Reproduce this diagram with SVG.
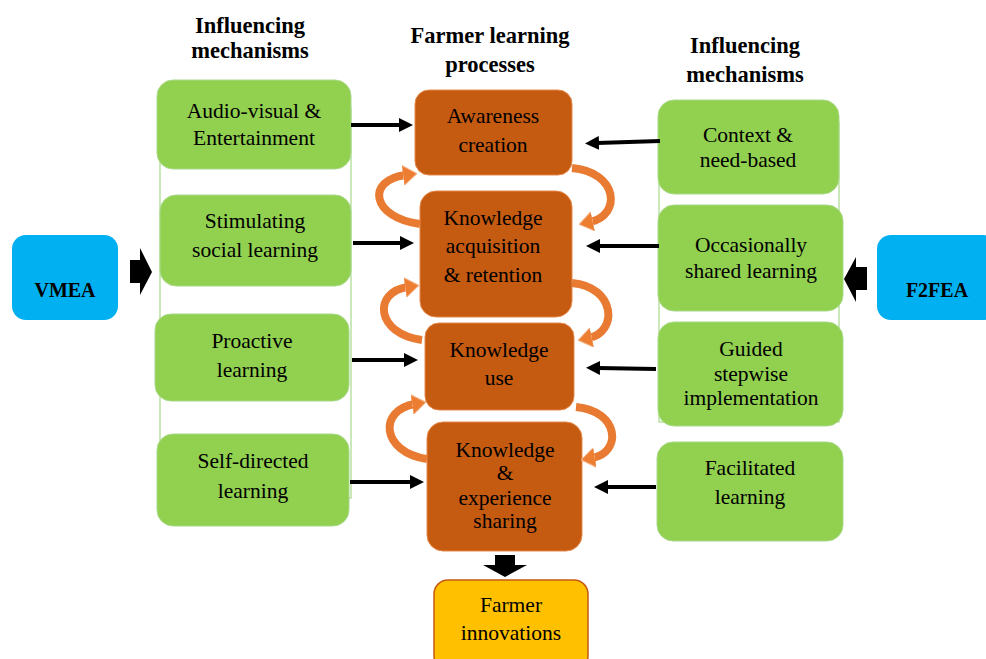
<svg xmlns="http://www.w3.org/2000/svg" width="986" height="659" viewBox="0 0 986 659">
<style>
text{font-family:"Liberation Serif","DejaVu Serif","Noto Serif",serif;fill:#000;text-anchor:middle}
.hd{font-size:22.5px;font-weight:bold}
.t{font-size:21.5px}
.lb{font-size:20px;font-weight:bold}
.g{fill:#92D050;stroke:#A9D98A;stroke-width:1}
.o{fill:#C55A11;stroke:#E7894A;stroke-width:1}
.b{fill:#00B0F0}
.y{fill:#FFC000;stroke:#C55A11;stroke-width:1.5}
.frame{fill:none;stroke:#A9D98A;stroke-width:1.2}
.ar{stroke:#000;stroke-width:4;fill:none}
.cv{stroke:#E97A32;stroke-width:8;fill:none}
</style>
<defs>
<marker id="ah" markerUnits="userSpaceOnUse" markerWidth="14" markerHeight="14" refX="2" refY="7" orient="auto">
<path d="M0,0 L14,7 L0,14 z" fill="#000"/>
</marker>
<marker id="oh" markerUnits="userSpaceOnUse" markerWidth="14" markerHeight="20" refX="3" refY="10" orient="auto">
<path d="M0,0 L14,10 L0,20 z" fill="#ED7D31" stroke="#F4B183" stroke-width="1"/>
</marker>
</defs>

<g id="headers">
<text class="hd" x="250" y="33">Influencing</text>
<text class="hd" x="250" y="58">mechanisms</text>
<text class="hd" x="490" y="43">Farmer learning</text>
<text class="hd" x="490" y="72">processes</text>
<text class="hd" x="745" y="53">Influencing</text>
<text class="hd" x="745" y="82">mechanisms</text>
</g>

<rect class="frame" x="160" y="108" width="191" height="390"/>
<rect class="frame" x="659" y="122" width="180" height="300"/>

<g id="vmea"><rect class="b" x="12" y="235" width="106" height="85" rx="14"/><text class="lb" x="65" y="297">VMEA</text></g>
<g id="f2fea"><rect class="b" x="877" y="235" width="120" height="85" rx="14"/><text class="lb" x="937" y="297">F2FEA</text></g>

<g id="av"><rect class="g" x="157" y="80" width="194" height="89" rx="16"/><text class="t" x="254" y="118">Audio-visual &amp;</text><text class="t" x="254" y="145">Entertainment</text></g>
<g id="ssl"><rect class="g" x="160" y="195" width="191" height="91" rx="16"/><text class="t" x="255" y="228">Stimulating</text><text class="t" x="255" y="257">social learning</text></g>
<g id="pl"><rect class="g" x="155" y="314" width="194" height="87" rx="16"/><text class="t" x="252" y="348">Proactive</text><text class="t" x="252" y="377">learning</text></g>
<g id="sdl"><rect class="g" x="157" y="434" width="192" height="92" rx="16"/><text class="t" x="253" y="468">Self-directed</text><text class="t" x="253" y="498">learning</text></g>

<g id="cnb"><rect class="g" x="658" y="100" width="181" height="94" rx="16"/><text class="t" x="748" y="142">Context &amp;</text><text class="t" x="748" y="167">need-based</text></g>
<g id="osl"><rect class="g" x="658" y="205" width="185" height="106" rx="16"/><text class="t" x="751" y="252">Occasionally</text><text class="t" x="751" y="278">shared learning</text></g>
<g id="gsi"><rect class="g" x="658" y="322" width="185" height="104" rx="16"/><text class="t" x="751" y="356">Guided</text><text class="t" x="751" y="381">stepwise</text><text class="t" x="751" y="405">implementation</text></g>
<g id="fl"><rect class="g" x="657" y="442" width="186" height="99" rx="16"/><text class="t" x="750" y="475">Facilitated</text><text class="t" x="750" y="504">learning</text></g>

<g id="ac"><rect class="o" x="415" y="90" width="157" height="85" rx="14"/><text class="t" x="493" y="123">Awareness</text><text class="t" x="493" y="152">creation</text></g>
<g id="kar"><rect class="o" x="420" y="191" width="152" height="126" rx="16"/><text class="t" x="493" y="225">Knowledge</text><text class="t" x="493" y="253">acquisition</text><text class="t" x="493" y="282">&amp; retention</text></g>
<g id="ku"><rect class="o" x="425" y="323" width="149" height="87" rx="14"/><text class="t" x="499" y="357">Knowledge</text><text class="t" x="499" y="385">use</text></g>
<g id="kes"><rect class="o" x="427" y="422" width="155" height="129" rx="16"/><text class="t" x="505" y="457">Knowledge</text><text class="t" x="505" y="480">&amp;</text><text class="t" x="505" y="505">experience</text><text class="t" x="505" y="528">sharing</text></g>
<g id="fi"><rect class="y" x="434" y="580" width="154" height="90" rx="14"/><text class="t" x="511" y="612">Farmer</text><text class="t" x="511" y="640">innovations</text></g>

<g id="connectors">
<path d="M130,260 H140 V248 L152,272 L140,295 V283 H130 z" fill="#000"/>
<path d="M867,267 H856 V257 L844,279 L856,302 V290 H867 z" fill="#000"/>
<path d="M495,555 H515 V565 H527 L505,577 L483,565 H495 z" fill="#000"/>

<line class="ar" x1="351" y1="125" x2="401" y2="125" marker-end="url(#ah)"/>
<line class="ar" x1="353" y1="243" x2="402" y2="243" marker-end="url(#ah)"/>
<line class="ar" x1="352" y1="360" x2="406" y2="360" marker-end="url(#ah)"/>
<line class="ar" x1="350" y1="482" x2="412" y2="482" marker-end="url(#ah)"/>
<line class="ar" x1="660" y1="141" x2="597" y2="143" marker-end="url(#ah)"/>
<line class="ar" x1="659" y1="246" x2="598" y2="246" marker-end="url(#ah)"/>
<line class="ar" x1="656" y1="369" x2="598" y2="368" marker-end="url(#ah)"/>
<line class="ar" x1="656" y1="487" x2="606" y2="487" marker-end="url(#ah)"/>

<path class="cv" d="M420,224 C372,218 365,180 406,175" marker-end="url(#oh)"/>
<path class="cv" d="M422,340 C376,334 372,292 408,287" marker-end="url(#oh)"/>
<path class="cv" d="M427,459 C381,452 378,410 415,404" marker-end="url(#oh)"/>
<path class="cv" d="M572,168 C618,172 622,215 590,222" marker-end="url(#oh)"/>
<path class="cv" d="M572,283 C616,287 618,332 589,338" marker-end="url(#oh)"/>
<path class="cv" d="M576,407 C620,411 622,453 592,458" marker-end="url(#oh)"/>
</g>
</svg>
